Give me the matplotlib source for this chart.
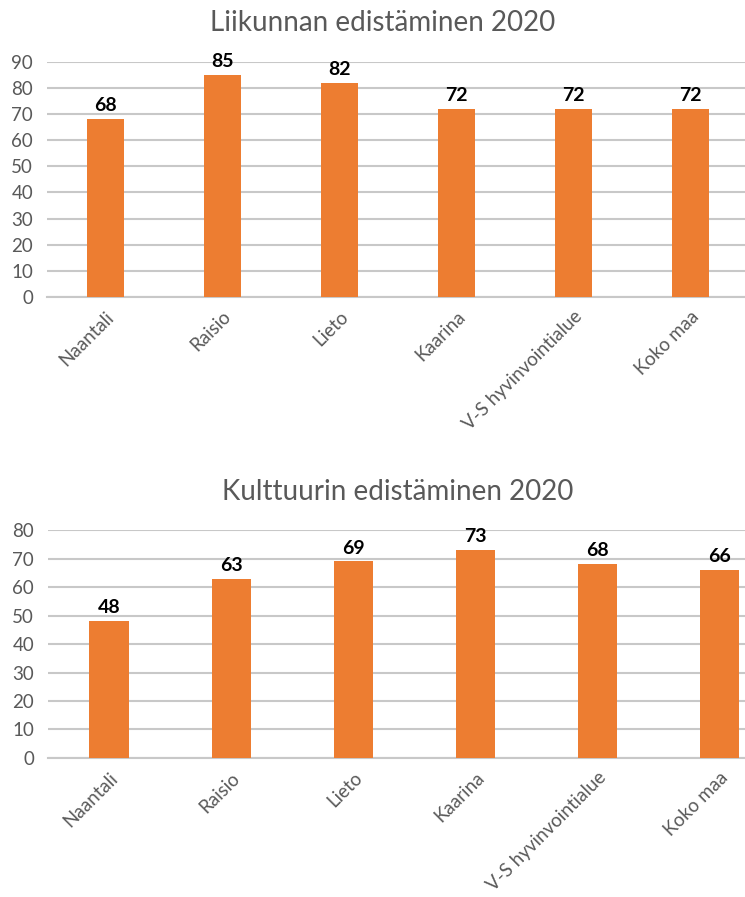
import numpy as np
import matplotlib.pyplot as plt

plt.rcParams['font.family'] = ['Lato', 'DejaVu Sans']

categories = ['Naantali', 'Raisio', 'Lieto', 'Kaarina', 'V-S hyvinvointialue', 'Koko maa']
liikunta = [68, 85, 82, 72, 72, 72]
kulttuuri = [48, 63, 69, 73, 68, 66]

bar_color = '#ED7D31'
text_gray = '#595959'
grid_gray = '#C8C8C8'

fig = plt.figure(figsize=(7.45, 8.97), dpi=100)
ax1 = fig.add_axes([0.063, 0.669, 0.942, 0.262])
ax2 = fig.add_axes([0.0644, 0.155, 0.983, 0.254])

panels = [
    (ax1, liikunta, 'Liikunnan edistäminen 2020', 90, 22),
    (ax2, kulttuuri, 'Kulttuurin edistäminen 2020', 80, 22),
]

x = np.arange(len(categories))
for ax, values, title, ymax, pad in panels:
    bars = ax.bar(x, values, width=0.32, color=bar_color, zorder=3)
    for rect, v in zip(bars, values):
        ax.annotate(str(v), (rect.get_x() + rect.get_width() / 2, v),
                    xytext=(0, 3.5), textcoords='offset points',
                    ha='center', va='bottom', fontsize=14, fontweight='bold',
                    color='black', zorder=4)
    ax.set_xlim(-0.5, len(categories) - 0.5)
    ax.set_ylim(0, ymax)
    ax.set_yticks(np.arange(0, ymax + 1, 10))
    ax.set_xticks(x)
    ax.set_xticklabels(categories, rotation=45, ha='right',
                       rotation_mode='anchor', fontsize=13.5, color=text_gray)
    ax.tick_params(axis='y', labelsize=13.5, labelcolor=text_gray, length=0, pad=10)
    ax.tick_params(axis='x', length=0, pad=8)
    ax.yaxis.grid(True, color=grid_gray, linewidth=1.5, zorder=0)
    for side in ['top', 'right', 'left']:
        ax.spines[side].set_visible(False)
    ax.spines['bottom'].set_color(grid_gray)
    ax.spines['bottom'].set_linewidth(1.5)
    ax.set_title(title, fontsize=20, color=text_gray, pad=pad, x=0.478)

fig.savefig('out.png', dpi=100)
